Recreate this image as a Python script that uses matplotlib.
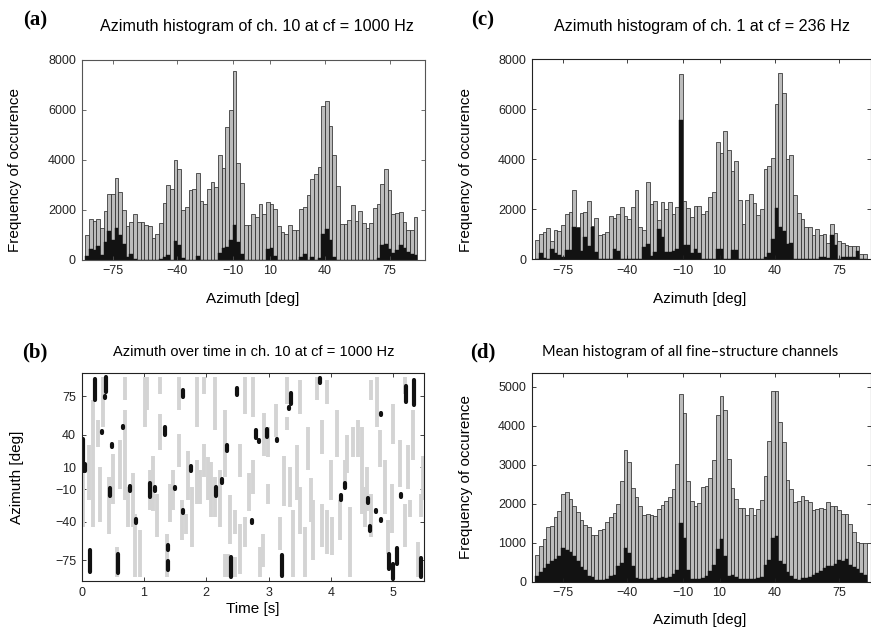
import numpy as np
import matplotlib
matplotlib.use("Agg")
import matplotlib.pyplot as plt

plt.rcParams['font.family'] = ['Liberation Sans', 'DejaVu Sans']

# azimuth bins, 2 deg wide
azimuth = np.arange(-89, 90, 2)
az_ticks = [-75, -40, -10, 10, 40, 75]

# (a) ch. 10, cf = 1000 Hz
a_total = [1000, 1640, 1530, 1640, 1270, 1930, 2640, 2640, 3280, 2700,
           2000, 1330, 1500, 1810, 1500, 1500, 1370, 1330, 880, 1010,
           1480, 2280, 3000, 2810, 4010, 3610, 1990, 2090, 2800, 2840,
           3480, 2350, 2240, 2840, 3110, 2910, 4210, 3670, 5310, 6010,
           7570, 3870, 3080, 1400, 1400, 1810, 1710, 2210, 1840, 2290,
           2210, 2030, 1330, 1110, 1030, 1370, 1170, 1200, 2010, 2110,
           2600, 3210, 3430, 3710, 6170, 6370, 5370, 4200, 2950, 1410,
           1440, 1600, 2200, 1550, 1950, 1480, 1270, 1480, 2080, 2240,
           3040, 3610, 2770, 1810, 1870, 1920, 1520, 1200, 1170, 1710]
a_black = [130, 440, 370, 550, 170, 710, 1150, 770, 1270, 970,
           640, 110, 210, 30, 0, 0, 0, 0, 0, 0,
           10, 100, 170, 0, 750, 570, 80, 0, 0, 0,
           130, 0, 0, 0, 0, 0, 270, 480, 510, 770,
           1370, 710, 240, 0, 0, 0, 0, 0, 0, 440,
           480, 150, 0, 0, 0, 0, 0, 0, 100, 240,
           0, 100, 0, 80, 1010, 1240, 770, 100, 0, 0,
           0, 0, 0, 0, 0, 0, 0, 0, 0, 80,
           570, 610, 440, 280, 400, 600, 480, 310, 240, 200]

# (c) ch. 1, cf = 236 Hz
c_total = [780, 1020, 1080, 1240, 730, 1180, 1150, 1390, 1800, 1910,
           2760, 1280, 1870, 1910, 2350, 1320, 1650, 990, 1020, 1100,
           1740, 1670, 1800, 2090, 1730, 1620, 2090, 2780, 1280, 1180,
           3080, 2230, 2330, 1580, 2300, 2030, 2290, 1830, 2100, 7400,
           2330, 2040, 1700, 2130, 2130, 1830, 1930, 2500, 2690, 4680,
           4250, 5140, 4390, 3540, 3930, 2390, 1410, 2370, 2630, 2260,
           1780, 2000, 3610, 3730, 4060, 6210, 7450, 6640, 4030, 4180,
           2590, 1840, 1630, 1280, 1280, 980, 1220, 990, 1020, 650,
           1410, 1050, 720, 670, 560, 530, 530, 530, 200, 200]
c_black = [0, 270, 60, 0, 400, 260, 170, 100, 370, 370,
           1300, 1240, 340, 900, 540, 1300, 300, 0, 0, 0,
           0, 400, 330, 0, 0, 0, 0, 0, 0, 500,
           620, 150, 300, 1200, 900, 300, 300, 320, 400, 5570,
           590, 590, 270, 400, 235, 0, 0, 0, 0, 430,
           430, 0, 0, 390, 390, 0, 0, 0, 0, 0,
           0, 0, 100, 260, 820, 2070, 1280, 1150, 600, 670,
           0, 0, 0, 0, 0, 0, 0, 80, 80, 60,
           990, 560, 0, 80, 80, 80, 80, 340, 0, 0]

# (d) mean of all fine-structure channels
d_total = [690, 920, 1090, 1400, 1440, 1670, 1800, 2240, 2290, 2120,
           1930, 1780, 1580, 1450, 1400, 1190, 1200, 1330, 1350, 1520,
           1650, 1770, 1980, 2590, 3380, 3060, 2400, 2170, 1950, 1710,
           1730, 1700, 1680, 1860, 1970, 2080, 2170, 2380, 3010, 4810,
           4320, 2570, 2070, 1950, 2010, 2420, 2460, 2670, 3120, 4260,
           4760, 4400, 3150, 2410, 2130, 1900, 1900, 1700, 1900, 1700,
           1870, 2100, 2700, 3600, 4880, 4880, 4100, 3570, 2610, 2370,
           2040, 2060, 2200, 2100, 2040, 1840, 1870, 1900, 1870, 2030,
           1950, 1950, 1840, 1740, 1740, 1480, 1270, 1020, 1000, 980]
d_black = [140, 240, 350, 460, 520, 590, 670, 860, 820, 750,
           650, 520, 380, 310, 150, 120, 50, 50, 50, 70,
           150, 180, 390, 480, 860, 730, 410, 90, 60, 70,
           70, 90, 50, 90, 120, 90, 120, 200, 310, 1500,
           1120, 290, 70, 60, 60, 90, 150, 270, 440, 850,
           1100, 650, 150, 170, 120, 70, 60, 60, 60, 60,
           90, 130, 440, 560, 1110, 1170, 520, 460, 260, 150,
           70, 50, 90, 90, 110, 170, 220, 280, 350, 390,
           410, 460, 560, 530, 570, 430, 370, 330, 220, 180]

# (b) azimuth over time: light streaks (all estimates) and dark blobs
gray_t = [0.027, 0.187, 0.267, 0.348, 0.444, 0.508, 0.561, 0.695, 0.695, 0.749,
          0.856, 0.936, 1.016, 1.053, 1.096, 1.203, 1.257, 1.257, 1.364, 1.471,
          1.567, 1.567, 1.604, 1.674, 1.765, 1.845, 1.845, 1.898, 1.963, 1.963,
          2.032, 2.139, 2.139, 2.219, 2.299, 2.299, 2.353, 2.46, 2.46, 2.54,
          2.54, 2.62, 2.62, 2.754, 2.754, 2.861, 2.914, 2.995, 2.995, 3.118,
          3.182, 3.289, 3.289, 3.342, 3.396, 3.503, 3.503, 3.583, 3.636, 3.717,
          3.77, 3.85, 3.85, 3.93, 3.93, 3.995, 4.091, 4.144, 4.225, 4.305,
          4.358, 4.439, 4.492, 4.545, 4.652, 4.652, 4.733, 4.786, 4.866, 4.92,
          5.0, 5.107, 5.187, 5.187, 5.267, 5.321, 5.401, 5.444,
          0.12, 0.30, 0.62, 0.83, 1.15, 1.42, 1.70, 2.08, 2.38, 2.68,
          2.93, 3.25, 3.45, 3.68, 4.02, 4.26, 4.58, 4.98, 5.24, 5.48]
gray_top = [16.5, 71.3, 53, 92.7, 1.2, 22.6, -62.8, 92.7, 62.2, -8,
            -32.3, -47.6, 92.7, 92.7, 7.3, -14, 92.7, 59, -50.6, 7.3,
            92.7, 40.9, -20, -32.3, -8, 92.7, 16.5, 7.3, 92.7, 31.7,
            19.5, 92.7, 1.2, 7.3, 62.2, -68.9, -68.9, -29.3, -72, 31.7,
            -41.5, 92.7, -35.4, 92.7, 16.5, -62.8, -50.6, 47, -4.9, 68.3,
            -35.4, 92.7, 56.1, 10.4, -29.3, 89.6, -8, -44.5, 47, -20,
            92.7, 53, -23.2, 89.6, -29.3, 16.5, 62.2, -20, 16.5, -26.2,
            47, 53, 47, -8, 89.6, -14, 92.7, 43.9, 16.5, -38.4,
            68.3, 34.8, 92.7, -23.2, -20, 62.2, -58.2, -14,
            30, 10, 35, 5, 20, -5, 25, 15, -15, 5,
            60, 20, 30, 0, -35, 40, 10, -5, 30, 20]
gray_bot = [-44.5, -44.5, 28.7, 47, -50.6, -23.2, -90, 71.3, -20, -44.5,
            -90, -90, 47, 62.2, -29.3, -53.7, 77.4, 25.6, -90, -29.3,
            62.2, 10.4, -56.7, -50.6, -62.8, 47, -23.2, -23.2, 77.4, 1.2,
            -20, 43.9, -35.4, -44.5, 1.2, -90, -90, -50.6, -90, 1.2,
            -87.2, 59, -62.8, 56.1, -14, -90, -81.1, 19.5, -23.2, 37.8,
            -65.9, 68.3, 43.9, -26.2, -90, 59, -50.6, -90, 7.3, -75,
            71.3, 22.6, -62.8, 68.3, -68.9, -20, 19.5, -56.7, -8, -90,
            19.5, 19.5, -32.3, -44.5, 71.3, -53.7, 47, 10.4, -32.3, -68.9,
            31.7, -8, 77.4, -62.8, -35.4, 16.5, -90, -35.4,
            -20, -40, -10, -45, -30, -40, -20, -35, -60, -30,
            20, -25, -20, -40, -70, 5, -30, -50, -10, -20]

dark_t = [0.21, 0.385, 0.374, 0.018, 0.06, 0.32, 0.49, 0.67, 0.45, 0.78,
          1.1, 1.17, 0.87, 0.13, 0.59, 1.34, 1.38, 1.39, 1.49, 1.63,
          1.75, 1.62, 2.16, 2.26, 2.33, 2.39, 2.49, 2.73, 2.8, 2.84,
          2.97, 3.14, 3.22, 3.36, 3.33, 3.82, 4.22, 4.17, 4.59, 4.73,
          4.81, 4.63, 4.81, 5.12, 5.21, 5.34, 4.93, 5.06, 5.0, 5.45]
dark_top = [91, 93, 75, 36, 13, 43, 31, 48, -9, -7,
            -4, -8, -37, -66, -69, 47, -61, -76, -8, 81,
            11, -29, -8, -1, 30, -72, 83, -38, 44, 35,
            45, 36, -70, 78, 65, 92, -4, -15, -18, -29,
            -37, -44, 60, -14, 84, 90, -69, -64, -78, -73]
dark_bot = [72, 79, 73, 7, 7, 41, 29, 46, -16, -12,
            -17, -12, -41, -86, -87, 40, -66, -84, -10, 74,
            7, -32, -16, -4, 25, -90, 76, -41, 37, 33,
            38, 34, -89, 68, 63, 87, -9, -20, -23, -31,
            -39, -48, 58, -17, 70, 67, -83, -78, -92, -90]

W, H = 871, 634
fig = plt.figure(figsize=(W / 100, H / 100), dpi=100)


def px_axes(l, t, r, b):
    return fig.add_axes([l / W, 1 - b / H, (r - l) / W, (b - t) / H])


def style(ax, spine_col):
    for s in ax.spines.values():
        s.set_color(spine_col)
        s.set_linewidth(0.8)
    ax.tick_params(direction='in', length=3, width=0.6, labelsize=9,
                   top=True, right=True, colors=spine_col, labelcolor='#222222',
                   pad=4)


def hist_panel(ax, total, black, ymax, yticks, spine_col, xmax):
    ax.bar(azimuth, total, width=2, color='#bcbcbc', edgecolor='#2e2e2e',
           linewidth=0.55)
    ax.bar(azimuth, black, width=2, color='#121212', edgecolor='#121212',
           linewidth=0.3)
    ax.set_xlim(-92, xmax)
    ax.set_ylim(0, ymax)
    ax.set_xticks(az_ticks)
    ax.set_xticklabels(['\u221275', '\u221240', '\u221210', '10', '40', '75'])
    ax.set_yticks(yticks)
    style(ax, spine_col)


ax_a = px_axes(81.5, 60, 424.7, 259.5)
ax_c = px_axes(531.7, 59.3, 870.5, 259.3)
ax_b = px_axes(81.7, 373.3, 424.3, 581)
ax_d = px_axes(531.7, 373.3, 870.5, 581.7)

hist_panel(ax_a, a_total, a_black, 8000, [0, 2000, 4000, 6000, 8000], '#555555', 94)
hist_panel(ax_c, c_total, c_black, 8000, [0, 2000, 4000, 6000, 8000], '#222222', 92)
hist_panel(ax_d, d_total, d_black, 5340, [0, 1000, 2000, 3000, 4000, 5000], '#222222', 92)

ax_b.vlines(gray_t, gray_bot, gray_top, color='#d4d4d4', linewidth=2.8)
ax_b.vlines(dark_t, dark_bot, dark_top, color='#111111', linewidth=3.0,
            capstyle='round')
ax_b.set_xlim(0, 5.5)
ax_b.set_ylim(-94, 96)
ax_b.set_xticks([0, 1, 2, 3, 4, 5])
ax_b.set_yticks(az_ticks)
ax_b.set_yticklabels(['\u221275', '\u221240', '\u221210', '10', '40', '75'])
style(ax_b, '#222222')

# titles, panel letters and axis labels
serif = ['Liberation Serif', 'DejaVu Serif']
for x, y, s in [(35, 20, '(a)'), (483, 20, '(c)'), (35, 352, '(b)'), (483, 352, '(d)')]:
    fig.text(x / W, 1 - y / H, s, ha='center', va='center', fontsize=15,
             fontweight='bold', family=serif)

fig.text(257 / W, 1 - 27 / H, 'Azimuth histogram of ch. 10 at cf = 1000 Hz',
         ha='center', va='center', fontsize=11.6)
fig.text(702 / W, 1 - 27 / H, 'Azimuth histogram of ch. 1 at cf = 236 Hz',
         ha='center', va='center', fontsize=11.6)
fig.text(254 / W, 1 - 352 / H, 'Azimuth over time in ch. 10 at cf = 1000 Hz',
         ha='center', va='center', fontsize=10.5)
fig.text(690 / W, 1 - 352 / H, 'Mean histogram of all fine\u2013structure channels',
         ha='center', va='center', fontsize=10.5, family=['Lato', 'DejaVu Sans'])

for x, y, s in [(253, 299, 'Azimuth [deg]'), (700, 299, 'Azimuth [deg]'),
                (253, 609, 'Time [s]'), (700, 620, 'Azimuth [deg]')]:
    fig.text(x / W, 1 - y / H, s, ha='center', va='center', fontsize=11)
for x, y, s in [(15, 170, 'Frequency of occurence'), (466, 170, 'Frequency of occurence'),
                (17, 477, 'Azimuth [deg]'), (466, 477, 'Frequency of occurence')]:
    fig.text(x / W, 1 - y / H, s, ha='center', va='center', fontsize=11,
             rotation=90)

fig.savefig('out.png', dpi=100)
